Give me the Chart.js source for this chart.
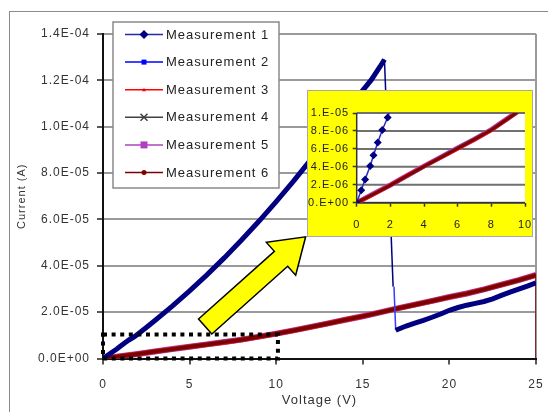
<!DOCTYPE html>
<html>
<head>
<meta charset="utf-8">
<script src="https://cdn.jsdelivr.net/npm/chart.js@4.4.1/dist/chart.umd.min.js"></script>
<style>
  body { margin: 0; background: #fff; width: 548px; height: 412px; overflow: hidden; position: relative; }
  #frame { position: absolute; left: 9px; top: 11px; width: 600px; height: 500px; border-left: 1px solid #8c8c8c; border-top: 1px solid #8c8c8c; }
  #mainChart { position: absolute; left: 0; top: 0; }
  #inset { position: absolute; left: 307px; top: 90px; width: 226px; height: 147px; box-sizing: border-box;
           background: #ffff00; border: 1px solid #a8a8a8; }
  #insetChart { display: block; }
</style>
</head>
<body>
<div id="frame"></div>
<canvas id="mainChart" width="548" height="412"></canvas>
<div id="inset"><canvas id="insetChart" width="224" height="145"></canvas></div>
<script>
(function () {
  'use strict'

  // Measurement 1: forward sweep, breaks down near 16 V, then lower branch
  var m1Volts = [0, 0.27, 0.5, 0.8, 1.0, 1.25, 1.52, 1.84, 2.5, 3, 4, 5, 6, 7, 8, 9, 10, 11, 12, 13, 14, 15, 15.5, 16, 16.25, 16.75,
    16.8, 16.9, 17.5, 18, 18.5, 19, 19.5, 20, 20.5, 21, 21.5, 22, 22.5, 23, 23.5, 24, 24.5, 25]
  var m1Amps = [0, 1.4e-6, 2.6e-6, 4.1e-6, 5.3e-6, 6.7e-6, 8.1e-6, 9.5e-6, 1.34e-5, 1.64e-5, 2.26e-5, 2.92e-5, 3.61e-5, 4.34e-5, 5.11e-5, 5.92e-5, 6.77e-5, 7.65e-5, 8.58e-5, 9.54e-5, 1.053e-4, 1.157e-4, 1.203e-4, 1.26e-4, 1.29e-4, 3.1e-5,
    null, 1.22e-5, 1.4e-5, 1.53e-5, 1.65e-5, 1.78e-5, 1.92e-5, 2.08e-5, 2.2e-5, 2.3e-5, 2.38e-5, 2.46e-5, 2.57e-5, 2.72e-5, 2.86e-5, 2.99e-5, 3.12e-5, 3.26e-5]

  // Measurement 2: short drop after breakdown
  var m2Volts = [16.8, 16.9]
  var m2Amps = [3.1e-5, 1.22e-5]

  // Measurements 3-6 lie on top of each other
  var sweepVolts = [0, 1, 2, 3, 4, 5, 6, 7, 8, 9, 10, 11, 12, 13, 14, 15, 16, 17, 18, 19, 20, 21, 22, 23, 24, 25]
  var m3Amps = [0, 0.95e-6, 1.95e-6, 3.0e-6, 4.05e-6, 5.05e-6, 6.05e-6, 7.05e-6, 8.1e-6, 9.4e-6, 1.07e-5, 1.21e-5, 1.36e-5, 1.51e-5, 1.67e-5, 1.82e-5, 1.99e-5, 2.16e-5, 2.32e-5, 2.48e-5, 2.65e-5, 2.8e-5, 2.98e-5, 3.18e-5, 3.38e-5, 3.6e-5]
  var m4Amps = [0, 0.97e-6, 1.93e-6, 2.98e-6, 4.02e-6, 5.06e-6, 6.08e-6, 7.1e-6, 8.12e-6, 9.38e-6, 1.068e-5, 1.21e-5, 1.357e-5, 1.508e-5, 1.668e-5, 1.818e-5, 1.985e-5, 2.155e-5, 2.318e-5, 2.478e-5, 2.648e-5, 2.8e-5, 2.978e-5, 3.178e-5, 3.378e-5, 3.598e-5]
  var m5Amps = [0, 0.99e-6, 1.98e-6, 3.03e-6, 4.08e-6, 5.08e-6, 6.1e-6, 7.08e-6, 8.15e-6, 9.43e-6, 1.073e-5, 1.214e-5, 1.362e-5, 1.514e-5, 1.673e-5, 1.824e-5, 1.993e-5, 2.163e-5, 2.324e-5, 2.484e-5, 2.654e-5, 2.806e-5, 2.984e-5, 3.184e-5, 3.384e-5, 3.604e-5]
  var m6Volts = [0, 1, 2, 3, 4, 5, 6, 7, 8, 9, 10, 11, 12, 13, 14, 15, 16, 17, 18, 19, 20, 21, 22, 23, 24, 25, 25]
  var m6Amps = [0, 0.96e-6, 1.96e-6, 3.01e-6, 4.04e-6, 5.04e-6, 6.06e-6, 7.06e-6, 8.1e-6, 9.4e-6, 1.07e-5, 1.21e-5, 1.36e-5, 1.51e-5, 1.67e-5, 1.82e-5, 1.99e-5, 2.16e-5, 2.32e-5, 2.48e-5, 2.65e-5, 2.8e-5, 2.98e-5, 3.18e-5, 3.38e-5, 3.6e-5, 0]

  var seriesNames = ['Measurement 1', 'Measurement 2', 'Measurement 3', 'Measurement 4', 'Measurement 5', 'Measurement 6']

  // axis ranges
  var mainXMax = 25, mainXStep = 5
  var mainYMax = 1.4e-4, mainYStep = 2e-5
  var insetXMax = 10, insetXStep = 2
  var insetYMax = 1e-5, insetYStep = 2e-6

  var FONT = "'Liberation Sans', Arial, sans-serif"
  var colors = {
    navy: '#000080', blue: '#0000ff', red: '#ff0000',
    black: '#404040', purple: '#b040c0', darkred: '#800000'
  }

  function toPoints(xs, ys) {
    return xs.map(function (x, i) { return { x: x, y: ys[i] } })
  }

  function sciLabel(v, digits) {
    var parts = Number(v).toExponential(digits).split('e')
    var exp = Math.abs(parseInt(parts[1], 10))
    var mant = digits === 0 ? parts[0] + '.' : parts[0]
    return mant + 'E' + (parts[1][0] === '-' ? '-' : '+') + String(exp).padStart(2, '0')
  }

  // big jumps (breakdown drops) are drawn thin
  function thinOnJump(c) {
    if (c.p0.parsed.y == null || c.p1.parsed.y == null) return undefined
    return Math.abs(c.p1.parsed.y - c.p0.parsed.y) > 1.5e-5 ? 1.5 : undefined
  }

  // keep label overhang from shrinking the plot area
  function fixX(h) {
    return function (s) { s.height = h; s.paddingLeft = 0; s.paddingRight = 0 }
  }
  function fixY(w) {
    return function (s) { s.width = w; s.paddingTop = 0; s.paddingBottom = 0 }
  }

  var spacing = {
    id: 'spacing',
    beforeDraw: function (chart) { chart.ctx.letterSpacing = '1px' }
  }

  function drawMarker(ctx, style, x, y, r, color) {
    ctx.save()
    ctx.fillStyle = color
    ctx.strokeStyle = color
    ctx.lineWidth = 1.5
    ctx.beginPath()
    if (style === 'rectRot') {
      ctx.moveTo(x, y - r); ctx.lineTo(x + r, y); ctx.lineTo(x, y + r); ctx.lineTo(x - r, y)
      ctx.closePath(); ctx.fill()
    } else if (style === 'rect') {
      ctx.fillRect(x - r, y - r, 2 * r, 2 * r)
    } else if (style === 'crossRot') {
      ctx.moveTo(x - r, y - r); ctx.lineTo(x + r, y + r)
      ctx.moveTo(x + r, y - r); ctx.lineTo(x - r, y + r)
      ctx.stroke()
    } else if (style === 'triangle') {
      ctx.moveTo(x, y - r); ctx.lineTo(x + r, y + r * 0.8); ctx.lineTo(x - r, y + r * 0.8)
      ctx.closePath(); ctx.fill()
    } else {
      ctx.arc(x, y, r, 0, Math.PI * 2); ctx.fill()
    }
    ctx.restore()
  }

  // legend box drawn inside the plot, as in the original sheet
  var legendBox = {
    id: 'legendBox',
    afterDraw: function (chart) {
      var ctx = chart.ctx
      var box = { x: 113, y: 22, w: 166, h: 166 }
      ctx.save()
      ctx.fillStyle = '#fff'
      ctx.fillRect(box.x, box.y, box.w, box.h)
      ctx.strokeStyle = '#8a8a8a'
      ctx.lineWidth = 1.5
      ctx.strokeRect(box.x, box.y, box.w, box.h)
      ctx.font = '13px ' + FONT
      ctx.letterSpacing = '1px'
      ctx.textBaseline = 'middle'
      chart.data.datasets.forEach(function (ds, i) {
        var y = 34.5 + i * 27.6
        ctx.strokeStyle = ds.legendLine
        ctx.lineWidth = 1.5
        ctx.beginPath(); ctx.moveTo(125, y); ctx.lineTo(163, y); ctx.stroke()
        drawMarker(ctx, ds.pointStyle, 144, y, ds.legendRadius, ds.backgroundColor)
        ctx.fillStyle = '#222'
        ctx.fillText(ds.label, 166, y + 0.5)
      })
      ctx.restore()
    }
  }

  // dotted zoom box and the yellow arrow pointing at the inset
  var zoomMarks = {
    id: 'zoomMarks',
    afterDatasetsDraw: function (chart) {
      var ctx = chart.ctx
      var xs = chart.scales.x, ys = chart.scales.y
      var x0 = xs.getPixelForValue(0), x1 = xs.getPixelForValue(insetXMax + 0.1)
      var y0 = ys.getPixelForValue(0), y1 = ys.getPixelForValue(insetYMax * 1.04)
      ctx.save()
      ctx.strokeStyle = '#000'
      ctx.lineWidth = 4
      ctx.setLineDash([4, 4.6])
      ctx.strokeRect(x0, y1, x1 - x0, y0 - y1)
      ctx.restore()

      var ax = xs.getPixelForValue(5.9), ay = ys.getPixelForValue(1.38e-5)
      var bx = xs.getPixelForValue(11.7), by = ys.getPixelForValue(5.25e-5)
      var dx = bx - ax, dy = by - ay, len = Math.hypot(dx, dy)
      var ux = dx / len, uy = dy / len, nx = -uy, ny = ux
      var shaft = 10, head = 22, headLen = 33
      var hx = bx - ux * headLen, hy = by - uy * headLen
      ctx.save()
      ctx.beginPath()
      ctx.moveTo(ax + nx * shaft, ay + ny * shaft)
      ctx.lineTo(hx + nx * shaft, hy + ny * shaft)
      ctx.lineTo(hx + nx * head, hy + ny * head)
      ctx.lineTo(bx, by)
      ctx.lineTo(hx - nx * head, hy - ny * head)
      ctx.lineTo(hx - nx * shaft, hy - ny * shaft)
      ctx.lineTo(ax - nx * shaft, ay - ny * shaft)
      ctx.closePath()
      ctx.fillStyle = '#ffff00'
      ctx.fill()
      ctx.strokeStyle = '#000'
      ctx.lineWidth = 1.5
      ctx.lineJoin = 'miter'
      ctx.stroke()
      ctx.restore()
    }
  }

  // white plot area plus horizontal grid for the inset
  var insetBack = {
    id: 'insetBack',
    beforeDatasetsDraw: function (chart) {
      var a = chart.chartArea
      var ys = chart.scales.y
      var ctx = chart.ctx
      ctx.save()
      ctx.fillStyle = '#fff'
      ctx.fillRect(a.left, a.top, a.right - a.left, a.bottom - a.top)
      ctx.strokeStyle = '#707070'
      ctx.lineWidth = 2
      ys.ticks.forEach(function (t) {
        var y = ys.getPixelForValue(t.value)
        ctx.beginPath(); ctx.moveTo(a.left, y); ctx.lineTo(a.right, y); ctx.stroke()
      })
      ctx.strokeStyle = '#333'
      ctx.lineWidth = 1.5
      ctx.beginPath()
      ctx.moveTo(a.left, a.top); ctx.lineTo(a.left, a.bottom); ctx.lineTo(a.right, a.bottom)
      ctx.stroke()
      ctx.restore()
    }
  }

  function makeDatasets(inset) {
    return [
      {
        label: seriesNames[0], data: toPoints(m1Volts, m1Amps), order: 0,
        borderColor: inset ? '#2a2ac8' : colors.navy, backgroundColor: colors.navy, legendLine: '#2a2aa0',
        borderWidth: inset ? 1.5 : 5, pointRadius: inset ? 4 : 0, pointStyle: 'rectRot', legendRadius: 4.5,
        pointBorderWidth: 0, segment: inset ? {} : { borderWidth: thinOnJump }
      },
      {
        label: seriesNames[1], data: toPoints(m2Volts, m2Amps), order: 1,
        borderColor: '#3a3aff', backgroundColor: colors.blue, legendLine: colors.blue,
        borderWidth: 1.5, pointRadius: 0, pointStyle: 'rect', legendRadius: 2.5
      },
      {
        label: seriesNames[2], data: toPoints(sweepVolts, m3Amps), order: 4,
        borderColor: colors.red, backgroundColor: colors.red, legendLine: colors.red,
        borderWidth: inset ? 4 : 5, pointRadius: 0, pointStyle: 'triangle', legendRadius: 2
      },
      {
        label: seriesNames[3], data: toPoints(sweepVolts, m4Amps), order: 3,
        borderColor: colors.black, backgroundColor: colors.black, legendLine: colors.black,
        borderWidth: inset ? 3 : 4, pointRadius: 0, pointStyle: 'crossRot', legendRadius: 3.5
      },
      {
        label: seriesNames[4], data: toPoints(sweepVolts, m5Amps), order: 5,
        borderColor: colors.purple, backgroundColor: colors.purple, legendLine: colors.purple,
        borderWidth: inset ? 5 : 6, pointRadius: 0, pointStyle: 'rect', legendRadius: 3.5
      },
      {
        label: seriesNames[5], data: toPoints(m6Volts, m6Amps), order: 2,
        borderColor: colors.darkred, backgroundColor: colors.darkred, legendLine: colors.darkred,
        borderWidth: inset ? 2.5 : 3.5, pointRadius: 0, pointStyle: 'circle', legendRadius: 2.5,
        segment: inset ? {} : { borderWidth: thinOnJump }
      }
    ]
  }

  var tickFont = { family: FONT, size: 12 }

  // eslint-disable-next-line no-unused-vars
  var mainChart = new Chart(document.getElementById('mainChart'), {
    type: 'scatter',
    data: { datasets: makeDatasets(false) },
    options: {
      responsive: false,
      animation: false,
      showLine: true,
      layout: { padding: { top: 34, right: 12, left: 0, bottom: 0 } },
      plugins: { legend: { display: false }, tooltip: { enabled: false } },
      scales: {
        x: {
          type: 'linear', min: 0, max: mainXMax,
          ticks: { stepSize: mainXStep, padding: 13, color: '#333', font: tickFont },
          grid: {
            color: function (c) { return c.tick && c.tick.value === mainXMax ? '#9a9a9a' : 'rgba(0,0,0,0)' },
            lineWidth: 2, tickColor: '#222', tickLength: 6, tickWidth: 1.5
          },
          border: { color: '#111', width: 2 },
          title: { display: true, text: 'Voltage (V)', color: '#333', font: { family: FONT, size: 13 }, padding: { top: 0, bottom: 4 } },
          afterFit: fixX(53.5)
        },
        y: {
          min: 0, max: mainYMax,
          ticks: { stepSize: mainYStep, padding: 7, color: '#333', font: tickFont, callback: function (v) { return sciLabel(v, 1) } },
          grid: { color: '#9a9a9a', lineWidth: 2, tickColor: '#222', tickLength: 6, tickWidth: 1.5 },
          border: { color: '#111', width: 2 },
          title: { display: true, text: 'Current (A)', color: '#333', font: { family: FONT, size: 11 }, padding: { top: 15, bottom: 0 } },
          afterFit: fixY(103)
        }
      }
    },
    plugins: [spacing, zoomMarks, legendBox]
  })

  var insetFont = { family: FONT, size: 11 }

  // eslint-disable-next-line no-unused-vars
  var insetChart = new Chart(document.getElementById('insetChart'), {
    type: 'scatter',
    data: { datasets: makeDatasets(true) },
    options: {
      responsive: false,
      animation: false,
      showLine: true,
      layout: { padding: { top: 22, right: 7, left: 0, bottom: 0 } },
      plugins: { legend: { display: false }, tooltip: { enabled: false } },
      scales: {
        x: {
          type: 'linear', min: 0, max: insetXMax,
          ticks: { stepSize: insetXStep, padding: 12, color: '#222', font: insetFont },
          grid: { drawOnChartArea: false, tickColor: '#333', tickLength: 4, tickWidth: 1.5 },
          border: { display: false },
          afterFit: fixX(33.3)
        },
        y: {
          min: 0, max: insetYMax,
          ticks: { stepSize: insetYStep, padding: 3.5, color: '#222', font: insetFont, callback: function (v) { return sciLabel(v, 0) } },
          grid: { drawOnChartArea: false, tickColor: '#333', tickLength: 4, tickWidth: 1.5 },
          border: { display: false },
          afterFit: fixY(48.7)
        }
      }
    },
    plugins: [spacing, insetBack]
  })
}())
</script>
</body>
</html>
